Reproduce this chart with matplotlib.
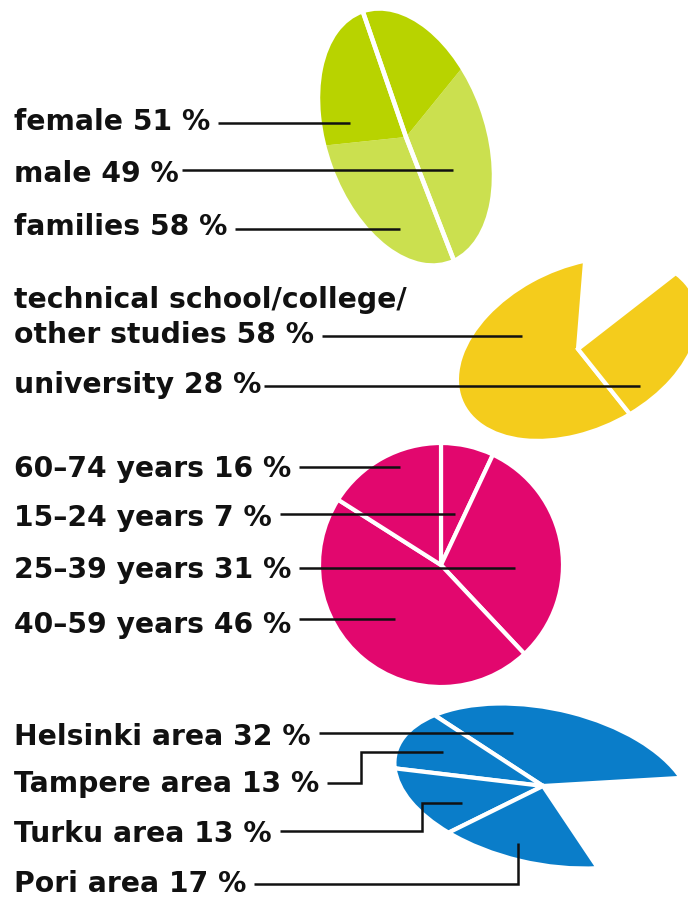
import matplotlib
matplotlib.use("Agg")
import matplotlib.pyplot as plt
from matplotlib.transforms import Affine2D

W, H = 688, 898

# --- data -------------------------------------------------------------
gender_labels = ["female", "male"]
gender_pct = [51, 49]
families_pct = 58

edu_labels = ["technical school/college/\nother studies", "university"]
edu_pct = [58, 28]

age_labels = ["15–24 years", "25–39 years", "40–59 years", "60–74 years"]
age_pct = [7, 31, 46, 16]

region_labels = ["Helsinki area", "Tampere area", "Turku area", "Pori area"]
region_pct = [32, 13, 13, 17]

# --- style ------------------------------------------------------------
GREEN_DARK = "#B8D300"
GREEN_LIGHT = "#CBE04F"
YELLOW = "#F4CC1C"
MAGENTA = "#E2076E"
BLUE = "#0A7DC9"
INK = "#111111"
FONT = dict(family="DejaVu Sans", fontweight="bold", fontsize=20.3, color=INK)

fig = plt.figure(figsize=(W / 100, H / 100), dpi=100)
ax = fig.add_axes([0, 0, 1, 1])


def tilted_pie(pct, center, sx, sy, rot, start, colors, counterclock=True,
               face=True, lw=3.0):
    # pie on a unit circle, then squashed/rotated into a perspective ellipse
    wprops = dict(edgecolor="white", linewidth=lw)
    if not face:
        wprops["facecolor"] = "none"
    wedges, _ = ax.pie([p / 100 for p in pct], normalize=False, startangle=start,
                       counterclock=counterclock, colors=colors, wedgeprops=wprops)
    tr = (Affine2D().scale(sx, sy).rotate_deg(rot).scale(1, -1)
          .translate(*center) + ax.transData)
    for w in wedges:
        w.set_transform(tr)
    return wedges


# green: families share as the fill, gender split as the white cut
tilted_pie([families_pct, 100 - families_pct], (406, 137), 81, 133, 19, 172,
           [GREEN_LIGHT, GREEN_DARK], lw=0)
tilted_pie(gender_pct, (406, 137), 81, 133, 19, 90, ["none", "none"],
           face=False, lw=3.2)

# yellow: education, the rest is left out
tilted_pie(edu_pct, (578, 349), 128, 82, 25, 70, [YELLOW, YELLOW])

# magenta: age groups
tilted_pie(age_pct, (441, 565), 122, 122, 0, 90, [MAGENTA] * 4,
           counterclock=False)

# blue: regions
tilted_pie(region_pct, (543, 786), 151, 78, -12, 28, [BLUE] * 4)

ax.set_xlim(0, W)
ax.set_ylim(H, 0)
ax.set_aspect("auto")
ax.axis("off")

renderer = fig.canvas.get_renderer()
inv = ax.transData.inverted()


def label(text, baseline, path, x=14, gap=8):
    lines = text.split("\n")
    t = None
    for i, ln in enumerate(lines):
        t = ax.text(x, baseline - 35 * (len(lines) - 1 - i), ln,
                    ha="left", va="baseline", **FONT)
    bb = t.get_window_extent(renderer)
    x0 = inv.transform((bb.x1, bb.y0))[0] + gap
    xs = [x0] + [p[0] for p in path]
    ys = [path[0][1]] + [p[1] for p in path]
    ax.plot(xs, ys, color=INK, lw=1.8, solid_capstyle="butt",
            solid_joinstyle="miter")


# gender + families
label(f"{gender_labels[0]} {gender_pct[0]} %", 130, [(350, 123)])
label(f"{gender_labels[1]} {gender_pct[1]} %", 182, [(453, 170)], gap=3)
label(f"families {families_pct} %", 235, [(400, 229)])

# education
label(f"{edu_labels[0]} {edu_pct[0]} %", 343, [(522, 336)])
label(f"{edu_labels[1]} {edu_pct[1]} %", 393, [(640, 386)], gap=3)

# age, listed oldest first as in the source
age_rows = [(3, 477, [(400, 467)]), (0, 526, [(455, 514)]),
            (1, 578, [(515, 568)]), (2, 633, [(395, 619)])]
for i, base, path in age_rows:
    label(f"{age_labels[i]} {age_pct[i]} %", base, path)

# regions with elbow leaders
region_rows = [
    (745, [(513, 733)]),
    (792, [(361, 783), (361, 752), (443, 752)]),
    (842, [(422, 831), (422, 803), (462, 803)]),
    (892, [(518, 884), (518, 843)]),
]
for (base, path), name, pct in zip(region_rows, region_labels, region_pct):
    label(f"{name} {pct} %", base, path)

fig.savefig("out.png", dpi=100)
